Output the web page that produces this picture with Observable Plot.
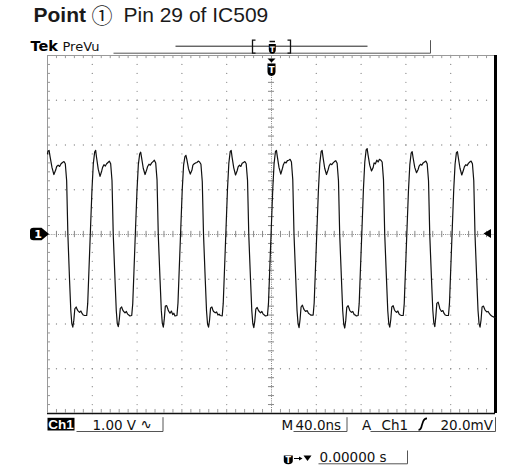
<!DOCTYPE html>
<html><head><meta charset="utf-8">
<script src="https://cdn.jsdelivr.net/npm/d3@7"></script>
<script src="https://cdn.jsdelivr.net/npm/@observablehq/plot@0.6"></script>
<style>html,body{margin:0;padding:0;background:#fff;} svg{display:block}</style>
</head><body><div id="chart"></div>
<script>
// ---- text content ----
const titleBold = "Point";
const titleCircled = "①";
const titleRest = "Pin 29 of IC509";
const brand = "Tek";
const acqMode = "PreVu";
const channel = "Ch1";
const voltsPerDiv = "1.00 V";
const couplingGlyph = "∿";
const timebasePrefix = "M";
const timePerDiv = "40.0ns";
const trigMode = "A";
const trigSource = "Ch1";
const trigLevelText = "20.0mV";
const trigPosText = "0.00000 s";
const groundLabel = "1";
const trigGlyph = "T";

// ---- scales (ns, V) ----
const timeDomain = [-200, 200];   // 10 div x 40 ns
const voltDomain = [-4, 4];       // 8 div x 1 V
const majorTimes = [-160, -120, -80, -40, 40, 80, 120, 160];
const majorVolts = [-3, -2, -1, 1, 2, 3];
const minorTimes = d3.range(-200, 200.001, 8);
const minorVolts = d3.range(-4, 4.001, 0.2);
const groundLevel = 0;
const triggerLevel = 0.02;
const triggerTime = 0;

// ---- trace [ns, V], one array per cycle ----
const cycle1 = [[-200.0,1.80],[-199.6,1.86],[-198.6,1.88],[-197.7,1.74],[-196.0,1.50],[-194.3,1.34],[-192.7,1.44],[-191.8,1.52],[-190.5,1.55],[-189.2,1.52],[-187.9,1.58],[-186.6,1.61],[-185.3,1.63],[-184.1,1.58],[-182.9,1.20],[-181.8,0],[-180.3,-1.03],[-179.2,-1.70],[-178.3,-1.99],[-177.4,-2.07],[-176.5,-1.92],[-175.6,-1.66],[-174.4,-1.62],[-173.4,-1.68],[-172.9,-1.70],[-171.4,-1.74],[-170.2,-1.71],[-169.0,-1.77],[-168.0,-1.80],[-166.9,-1.81],[-166.0,-1.81]];
const cycle2 = [[-165.0,-1.81],[-164.1,-1.54],[-163.0,-0.80],[-161.8,0],[-160.3,1.00],[-159.1,1.58],[-157.9,1.84],[-157.0,1.88],[-156.2,1.72],[-154.7,1.46],[-153.1,1.30],[-151.6,1.42],[-150.8,1.50],[-149.6,1.56],[-148.4,1.53],[-147.2,1.58],[-146.0,1.61],[-144.8,1.64],[-143.6,1.58],[-142.4,1.20],[-141.3,0],[-139.7,-1.03],[-138.6,-1.70],[-137.7,-1.99],[-136.8,-2.06],[-135.9,-1.90],[-135.0,-1.65],[-133.8,-1.62],[-132.8,-1.69],[-132.3,-1.71],[-130.8,-1.75],[-129.6,-1.72],[-128.4,-1.78],[-127.4,-1.80],[-126.4,-1.82]];
const cycle3 = [[-124.8,-1.81],[-123.9,-1.55],[-122.8,-0.82],[-121.6,0],[-120.1,0.98],[-118.9,1.56],[-117.7,1.80],[-116.8,1.84],[-116.0,1.72],[-114.5,1.48],[-112.9,1.34],[-111.4,1.45],[-110.6,1.52],[-109.4,1.57],[-108.2,1.55],[-107.0,1.60],[-105.8,1.63],[-104.6,1.66],[-103.4,1.60],[-102.2,1.22],[-101.1,0],[-99.5,-1.02],[-98.4,-1.69],[-97.5,-1.98],[-96.6,-2.07],[-95.7,-1.88],[-94.8,-1.60],[-93.6,-1.59],[-92.6,-1.66],[-92.1,-1.70],[-90.6,-1.76],[-89.4,-1.71],[-88.2,-1.79],[-87.2,-1.76],[-86.2,-1.82]];
const cycle4 = [[-84.4,-1.81],[-83.5,-1.53],[-82.4,-0.79],[-81.2,0],[-79.7,1.00],[-78.5,1.55],[-77.3,1.74],[-76.4,1.77],[-75.6,1.68],[-74.1,1.47],[-72.5,1.35],[-71.0,1.44],[-70.2,1.55],[-69.0,1.58],[-67.8,1.60],[-66.6,1.61],[-65.4,1.64],[-64.2,1.62],[-63.0,1.57],[-61.8,1.18],[-60.7,0],[-59.1,-1.04],[-58.0,-1.71],[-57.1,-2.00],[-56.2,-2.07],[-55.3,-1.91],[-54.4,-1.64],[-53.2,-1.62],[-52.2,-1.70],[-51.7,-1.72],[-50.2,-1.75],[-49.0,-1.73],[-47.8,-1.80],[-46.8,-1.78],[-45.8,-1.81]];
const cycle5 = [[-44.0,-1.82],[-43.1,-1.54],[-42.0,-0.81],[-40.8,0],[-39.3,1.01],[-38.1,1.59],[-36.9,1.85],[-36.0,1.88],[-35.2,1.73],[-33.7,1.49],[-32.1,1.33],[-30.6,1.43],[-29.8,1.51],[-28.6,1.55],[-27.4,1.52],[-26.2,1.59],[-25.0,1.61],[-23.8,1.63],[-22.6,1.58],[-21.4,1.21],[-20.3,0],[-18.7,-1.03],[-17.6,-1.70],[-16.7,-1.99],[-15.8,-2.08],[-14.9,-1.93],[-14.0,-1.67],[-12.8,-1.63],[-11.8,-1.69],[-11.3,-1.71],[-9.8,-1.75],[-8.6,-1.72],[-7.4,-1.78],[-6.4,-1.80],[-5.4,-1.82]];
const cycle6 = [[-3.6,-1.81],[-2.7,-1.54],[-1.6,-0.80],[-0.4,0],[1.1,1.00],[2.3,1.58],[3.5,1.85],[4.4,1.88],[5.2,1.74],[6.7,1.50],[8.3,1.35],[9.8,1.48],[10.6,1.56],[11.8,1.62],[13.0,1.60],[14.2,1.65],[15.4,1.66],[16.6,1.68],[17.8,1.62],[19.0,1.22],[20.1,0],[21.7,-1.03],[22.8,-1.70],[23.7,-1.99],[24.6,-2.08],[25.5,-1.90],[26.4,-1.62],[27.6,-1.58],[28.6,-1.65],[29.1,-1.68],[30.6,-1.72],[31.8,-1.70],[33.0,-1.76],[34.0,-1.78],[35.0,-1.80]];
const cycle7 = [[37.2,-1.80],[38.1,-1.53],[39.2,-0.80],[40.4,0],[41.9,1.00],[43.1,1.58],[44.3,1.85],[45.2,1.88],[46.0,1.73],[47.5,1.48],[49.1,1.34],[50.6,1.45],[51.4,1.53],[52.6,1.58],[53.8,1.56],[55.0,1.60],[56.2,1.63],[57.4,1.65],[58.6,1.59],[59.8,1.20],[60.9,0],[62.5,-1.03],[63.6,-1.71],[64.5,-2.00],[65.4,-2.09],[66.3,-1.92],[67.2,-1.63],[68.4,-1.59],[69.4,-1.66],[69.9,-1.70],[71.4,-1.74],[72.6,-1.72],[73.8,-1.79],[74.8,-1.80],[75.8,-1.82]];
const cycle8 = [[77.4,-1.81],[78.3,-1.54],[79.4,-0.78],[80.6,0],[82.1,1.03],[83.3,1.62],[84.5,1.89],[85.4,1.92],[86.2,1.78],[87.7,1.55],[89.3,1.42],[90.8,1.50],[91.6,1.60],[92.8,1.58],[94.0,1.66],[95.2,1.62],[96.4,1.68],[97.6,1.66],[98.8,1.62],[100.0,1.22],[101.1,0],[102.7,-1.02],[103.8,-1.70],[104.7,-1.99],[105.6,-2.07],[106.5,-1.90],[107.4,-1.62],[108.6,-1.59],[109.6,-1.67],[110.1,-1.70],[111.6,-1.74],[112.8,-1.71],[114.0,-1.78],[115.0,-1.80],[116.0,-1.81]];
const cycle9 = [[117.6,-1.81],[118.5,-1.55],[119.6,-0.81],[120.8,0],[122.3,0.99],[123.5,1.56],[124.7,1.82],[125.6,1.85],[126.4,1.72],[127.9,1.50],[129.5,1.38],[131.0,1.46],[131.8,1.53],[133.0,1.57],[134.2,1.55],[135.4,1.60],[136.6,1.62],[137.8,1.64],[139.0,1.58],[140.2,1.20],[141.3,0],[142.9,-1.03],[144.0,-1.68],[144.9,-1.97],[145.8,-2.06],[146.7,-1.84],[147.6,-1.54],[148.8,-1.51],[149.8,-1.60],[150.3,-1.66],[151.8,-1.72],[153.0,-1.70],[154.2,-1.77],[155.2,-1.80],[156.2,-1.81]];
const cycle10 = [[158.0,-1.81],[158.9,-1.54],[160.0,-0.80],[161.2,0],[162.7,1.00],[163.9,1.57],[165.1,1.83],[166.0,1.85],[166.8,1.72],[168.3,1.48],[169.9,1.33],[171.4,1.44],[172.2,1.51],[173.4,1.56],[174.6,1.54],[175.8,1.59],[177.0,1.62],[178.2,1.64],[179.4,1.58],[180.6,1.20],[181.7,0],[183.3,-1.03],[184.4,-1.70],[185.3,-1.99],[186.2,-2.07],[187.1,-1.91],[188.0,-1.62],[189.2,-1.60],[190.2,-1.66],[190.7,-1.69],[192.2,-1.73],[193.4,-1.72],[194.6,-1.77],[195.6,-1.80],[196.6,-1.82],[198.2,-1.84],[200.0,-1.86]];
const trace = [cycle1, cycle2, cycle3, cycle4, cycle5, cycle6, cycle7, cycle8, cycle9, cycle10].flat();

// ---- helpers ----
function pathSymbol(d) {
  const tk = d.match(/[MLHVQZ]|-?\d*\.?\d+/g);
  return {draw(ctx) {
    let i = 0, cx = 0, cy = 0, cmd = "M";
    while (i < tk.length) {
      if (/[MLHVQZ]/.test(tk[i])) { cmd = tk[i++]; if (cmd === "Z") { ctx.closePath(); continue; } }
      const n = () => +tk[i++];
      if (cmd === "M") { cx = n(); cy = n(); ctx.moveTo(cx, cy); cmd = "L"; }
      else if (cmd === "L") { cx = n(); cy = n(); ctx.lineTo(cx, cy); }
      else if (cmd === "H") { cx = n(); ctx.lineTo(cx, cy); }
      else if (cmd === "V") { cy = n(); ctx.lineTo(cx, cy); }
      else if (cmd === "Q") { const a = n(), b = n(); cx = n(); cy = n(); ctx.quadraticCurveTo(a, b, cx, cy); }
      else i++;
    }
  }};
}
const label = (txt, anchor, dx, dy, o = {}) => Plot.text([txt], {
  frameAnchor: anchor, dx, dy, text: d => d, textAnchor: "start", lineAnchor: "bottom",
  fontFamily: "DejaVu Sans", fontSize: 13.5, fill: "#111", ...o});
const glyph = (d, anchor, o = {}) => Plot.dot([0], {frameAnchor: anchor, symbol: pathSymbol(d), r: 1, ...o});
const strokeGlyph = (d, anchor, o = {}) => glyph(d, anchor, {fill: "none", stroke: "#555", strokeWidth: 1, ...o});
const fillGlyph = (d, anchor, o = {}) => glyph(d, anchor, {fill: "#000", stroke: "none", ...o});

const vGridDots = majorTimes.flatMap(t => minorVolts.map(v => [t, v]));
const hGridDots = majorVolts.flatMap(v => minorTimes.map(t => [t, v]));
const shield = "M-4,8H4V16Q4,20,0,20.5Q-4,20,-4,16Z";

const chart = Plot.plot({
  width: 524, height: 468,
  marginLeft: 47, marginRight: 29, marginTop: 55, marginBottom: 55,
  x: {domain: timeDomain, axis: null},
  y: {domain: voltDomain, axis: null},
  style: {background: "#fff", overflow: "visible"},
  marks: [
    // graticule dots
    Plot.dot(vGridDots, {x: d => d[0], y: d => d[1], r: 0.65, fill: "#8c8c8c", stroke: null}),
    Plot.dot(hGridDots, {x: d => d[0], y: d => d[1], r: 0.65, fill: "#8c8c8c", stroke: null}),
    // center cross with minor ticks
    Plot.ruleY([0], {stroke: "#888", strokeDasharray: "1,1.2"}),
    Plot.ruleX(minorTimes, {x: d => d, y1: -0.07, y2: 0.07, stroke: "#888"}),
    Plot.ruleX([0], {stroke: "#888", strokeDasharray: "1,1.2"}),
    Plot.ruleY(minorVolts, {y: d => d, x1: -2.7, x2: 2.7, stroke: "#888"}),
    // frame
    Plot.ruleY([4], {stroke: "#999"}),
    Plot.ruleX(minorTimes, {x: d => d, y1: 4, y2: 3.93, stroke: "#999"}),
    Plot.ruleX([-200], {stroke: "#999"}),
    Plot.ruleY(minorVolts, {y: d => d, x1: -200, x2: -197.3, stroke: "#999"}),
    Plot.ruleY([-4], {stroke: "#111", strokeWidth: 1.5}),
    Plot.ruleX(minorTimes, {x: d => d, y1: -4, y2: -3.91, stroke: "#999"}),
    Plot.ruleX([200], {stroke: "#000", strokeWidth: 3}),
    // waveform
    Plot.line(trace, {x: d => d[0], y: d => d[1], stroke: "#111", strokeWidth: 1.2}),
    // ground marker
    Plot.dot([groundLevel], {x: () => -200, y: d => d, symbol: pathSymbol("M-14,-6.3H-6L1.5,0L-6,6.3H-14Q-17.5,6.3,-17.5,3V-3Q-17.5,-6.3,-14,-6.3Z"), r: 1, fill: "#000", stroke: "none", dy: -0.5}),
    Plot.text([groundLabel], {x: () => -200, y: () => groundLevel, text: d => d, dx: -9.5, dy: -0.5, fill: "#fff", fontWeight: "bold", fontFamily: "DejaVu Sans", fontSize: 11, textAnchor: "middle", lineAnchor: "middle"}),
    // trigger level marker
    Plot.dot([triggerLevel], {x: () => 200, y: d => d, symbol: pathSymbol("M-12,0L-4.5,-4.5V4.5Z"), r: 1, fill: "#000", stroke: "none"}),
    // trigger position marker
    Plot.dot([triggerTime], {x: d => d, y: () => 4, symbol: pathSymbol("M-4,3H4L0,7Z"), r: 1, fill: "#000", stroke: "none"}),
    Plot.dot([triggerTime], {x: d => d, y: () => 4, symbol: pathSymbol(shield), r: 1, fill: "#000", stroke: "none"}),
    Plot.text([trigGlyph], {x: () => triggerTime, y: () => 4, text: d => d, dy: 17.5, fill: "#fff", fontWeight: "bold", fontFamily: "DejaVu Sans", fontSize: 9, textAnchor: "middle", lineAnchor: "bottom"}),
    // title
    label(titleBold, "top-left", -14, -34, {fontFamily: "Liberation Sans", fontWeight: "bold", fontSize: 21, fill: "#1a1a1a"}),
    label(titleCircled, "top-left", 44, -33, {fontFamily: "Noto Sans CJK JP", fontSize: 21, fill: "#1a1a1a"}),
    label(titleRest, "top-left", 76, -34, {fontFamily: "Liberation Sans", fontSize: 21, fill: "#1a1a1a"}),
    // top readout
    label(brand, "top-left", -17, -5, {fontWeight: "bold", fontSize: 14.5, fill: "#000"}),
    label(acqMode, "top-left", 15, -5, {fontSize: 13, fill: "#111"}),
    strokeGlyph("M66,-2.3H383V-15.3", "top-left", {stroke: "#555"}),
    strokeGlyph("M128,-9.3H320", "top-left", {stroke: "#222"}),
    strokeGlyph("M208,-15.3H205V-2.3H208", "top-left", {stroke: "#111", strokeWidth: 1.3}),
    strokeGlyph("M240,-15.3H243V-2.3H240", "top-left", {stroke: "#111", strokeWidth: 1.3}),
    strokeGlyph("M222,-14H227.5", "top-left", {stroke: "#111", strokeWidth: 1.5}),
    fillGlyph("M221.3,-11.5H228.3V-6Q228.3,-2,224.8,-1.7Q221.3,-2,221.3,-6Z", "top-left"),
    label(trigGlyph, "top-left", 224.8, -3.3, {fill: "#fff", fontWeight: "bold", fontSize: 7.5, textAnchor: "middle"}),
    // bottom readout, row 1
    fillGlyph("M0,4.3H27V17H0Z", "bottom-left"),
    label(channel, "bottom-left", 0.8, 15.6, {fontFamily: "Liberation Sans", fontWeight: "bold", fontSize: 13.5, fill: "#fff"}),
    strokeGlyph("M29,18H115.5V3.7", "bottom-left"),
    label(voltsPerDiv, "bottom-left", 45, 16.3),
    label(couplingGlyph, "bottom-left", 93, 15.5),
    label(timebasePrefix, "bottom-left", 234, 16.3),
    label(timePerDiv, "bottom-left", 248, 16.3),
    strokeGlyph("M246,18H299.5V3.7", "bottom-left"),
    label(trigMode, "bottom-left", 314.5, 16.3),
    label(trigSource, "bottom-left", 334, 16.3),
    strokeGlyph("M371,16.3Q373.5,16.3,374.3,12L375.6,8Q376.6,4.8,379.5,4.8", "bottom-left", {stroke: "#000", strokeWidth: 1.7}),
    label(trigLevelText, "bottom-left", 393, 16.3),
    strokeGlyph("M323,18H448V3.7", "bottom-left"),
    // bottom readout, row 2
    fillGlyph("M236.3,42H245.3V47.5Q245.3,50.5,240.8,50.7Q236.3,50.5,236.3,47.5Z", "bottom-left"),
    label(trigGlyph, "bottom-left", 240.8, 49.3, {fill: "#fff", fontWeight: "bold", fontSize: 8, textAnchor: "middle"}),
    strokeGlyph("M246.5,45H253", "bottom-left", {stroke: "#000", strokeWidth: 1}),
    fillGlyph("M255,45L251.5,43V47Z", "bottom-left"),
    fillGlyph("M256,42H264L260,47.5Z", "bottom-left"),
    label(trigPosText, "bottom-left", 272, 48.3),
    strokeGlyph("M271,50.3H360V37", "bottom-left")
  ]
});
document.getElementById("chart").appendChild(chart);
</script>
</body></html>
